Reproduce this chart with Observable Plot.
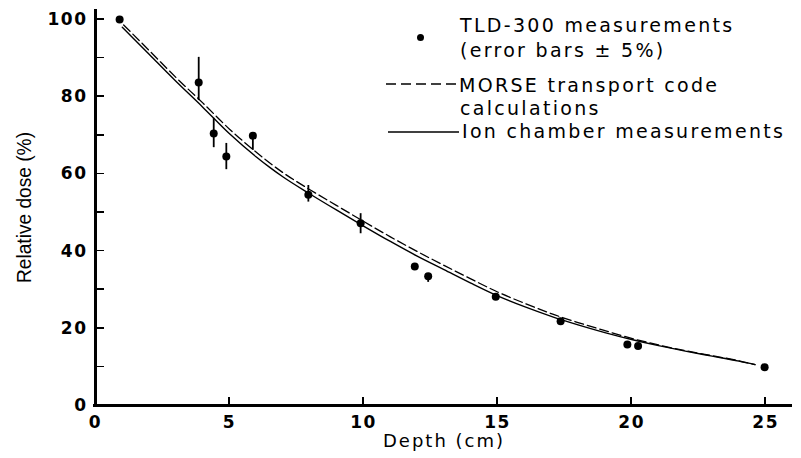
<!DOCTYPE html>
<html>
<head>
<meta charset="utf-8">
<script src="https://cdn.jsdelivr.net/npm/d3@7"></script>
<script src="https://cdn.jsdelivr.net/npm/@observablehq/plot@0.6"></script>
<style>
  html, body { margin: 0; padding: 0; background: #fff; }
  #wrap { position: relative; width: 801px; height: 458px; }
  #wrap g[aria-label="x-axis tick label"] text,
  #wrap g[aria-label="y-axis tick label"] text {
    font-family: "DejaVu Sans", sans-serif; font-size: 17px; font-weight: bold; letter-spacing: 1.5px;
  }
  #wrap g[aria-label="x-axis label"] text {
    font-family: "DejaVu Sans", sans-serif; font-size: 18px; letter-spacing: 2px;
  }
  #wrap g[aria-label="y-axis label"] text {
    font-family: "Liberation Sans", sans-serif; font-size: 21px;
  }
  .lg { position: absolute; font-family: "DejaVu Sans", sans-serif; font-size: 19px;
        line-height: 19px; letter-spacing: 2.3px; color: #000; white-space: nowrap; }
  .lgsvg { position: absolute; overflow: visible; }
  .axbar { position: absolute; background: #000; }
</style>
</head>
<body>
<div id="wrap"></div>
<script>
// TLD-300 measurements (depth cm, relative dose %), with error bar ends as drawn
const tldDepth = [0.9, 3.85, 4.41, 4.88, 5.87, 7.94, 9.89, 11.91, 12.41, 14.93, 17.35, 19.84, 20.24, 24.96];
const tldDose  = [100, 83.7, 70.5, 64.5, 69.9, 54.6, 47.2, 36.0, 33.5, 28.2, 21.8, 15.8, 15.4, 9.9];
const tldErrLo = [100, 79.0, 66.8, 61.1, 66.1, 52.7, 44.5, 36.0, 31.9, 28.2, 21.8, 15.8, 15.4, 9.9];
const tldErrHi = [100, 90.2, 74.4, 67.9, 69.9, 57.0, 49.7, 36.0, 33.5, 28.2, 21.8, 15.8, 15.4, 9.9];

// MORSE transport code calculations (dashed)
const morseDepth = [1.05, 2, 3, 4, 5, 6, 7, 8, 9, 10, 11, 12, 13, 14, 15, 16, 17, 18, 19, 20, 21, 22, 23, 24, 24.6];
const morseDose  = [98.6, 92, 85, 78.4, 71.6, 65.6, 60.3, 55.9, 51.8, 47.7, 43.7, 39.9, 36.3, 32.8, 29.4, 26.5, 23.8, 21.5, 19.4, 17.4, 15.7, 14.2, 12.9, 11.6, 10.6];

// Ion chamber measurements (solid)
const ionDepth = [1, 2, 3, 4, 5, 6, 6.5, 7, 8, 9, 10, 11, 12, 13, 14, 15, 16, 17, 18, 19, 20, 21, 22, 23, 24, 24.6];
const ionDose  = [98, 91, 84, 77.3, 70.4, 64.4, 61.7, 59.2, 54.8, 50.6, 46.5, 42.5, 38.7, 35.2, 31.7, 28.4, 25.6, 23.1, 20.9, 18.9, 17.1, 15.5, 14.1, 12.8, 11.5, 10.6];

const xTickLabels = [0, 5, 10, 15, 20, 25];
const xTickMarks = [5, 10, 15, 20, 25];
const yTickLabels = [0, 20, 40, 60, 80, 100];
const yTickMarks = [10, 20, 30, 40, 50, 60, 70, 80, 90, 100];

const xLabel = "Depth (cm)";
const yLabel = "Relative dose (%)";
const legendTLD = ["TLD-300 measurements", "(error bars \u00b1 5%)"];
const legendMorse = ["MORSE transport code", "calculations"];
const legendIon = "Ion chamber measurements";

const tld = tldDepth.map((d, i) => ({depth: d, dose: tldDose[i], lo: tldErrLo[i], hi: tldErrHi[i]}));
const morse = morseDepth.map((d, i) => ({depth: d, dose: morseDose[i]}));
const ion = ionDepth.map((d, i) => ({depth: d, dose: ionDose[i]}));

const W = 801, H = 458, mL = 95, mR = 9, mT = 9, mB = 53;
const xDomain = [0, 26], yDomain = [0, 102.6];

const chart = Plot.plot({
  width: W, height: H,
  marginLeft: mL, marginRight: mR, marginTop: mT, marginBottom: mB,
  x: {domain: xDomain},
  y: {domain: yDomain},
  marks: [
    Plot.ruleX([0], {x: d => d, stroke: "#000", strokeWidth: 3}),
    Plot.ruleY([0], {y: d => d, stroke: "#000", strokeWidth: 3}),
    Plot.line(morse, {x: "depth", y: "dose", stroke: "#000", strokeWidth: 1.3, strokeDasharray: "9,4", curve: "monotone-x"}),
    Plot.line(ion, {x: "depth", y: "dose", stroke: "#000", strokeWidth: 1.4, curve: "monotone-x"}),
    Plot.ruleX(tld.filter(d => d.hi > d.lo), {x: "depth", y1: "lo", y2: "hi", stroke: "#000", strokeWidth: 1.8}),
    Plot.dot(tld, {x: "depth", y: "dose", r: 4, fill: "#000", stroke: "none"}),
    Plot.axisX({ticks: xTickLabels, tickSize: 0, tickPadding: 10, tickFormat: d => String(d),
      label: xLabel, labelAnchor: "center", labelArrow: "none", labelOffset: 41}),
    Plot.axisY({ticks: yTickLabels, tickSize: 0, tickPadding: 8, tickFormat: d => String(d),
      label: yLabel, labelAnchor: "center", labelArrow: "none", labelOffset: 79})
  ]
});

const wrap = document.getElementById("wrap");
wrap.appendChild(chart);

// fit the y title to the reference's length
const yt = chart.querySelector('g[aria-label="y-axis label"] text');
if (yt) { yt.setAttribute("textLength", "151"); yt.setAttribute("lengthAdjust", "spacingAndGlyphs"); }

// axis lines and inward ticks as solid bars, placed with the chart's own scales
const sx = chart.scale("x").apply, sy = chart.scale("y").apply;
function bar(left, top, w, h) {
  const el = document.createElement("div");
  el.className = "axbar";
  el.style.left = left + "px"; el.style.top = top + "px";
  el.style.width = w + "px"; el.style.height = h + "px";
  wrap.appendChild(el);
}
const x0 = sx(xDomain[0]), x1 = sx(xDomain[1]), y0 = sy(yDomain[0]), y1 = sy(yDomain[1]);
bar(x0 - 2, y0 - 1.5, x1 - x0 + 2, 3);          // x axis
bar(x0 - 1.5, y1, 3, y0 - y1 + 1.5);            // y axis
xTickMarks.forEach(v => bar(sx(v) - 0.75, y0 - 8, 1.5, 8));
yTickMarks.forEach(v => bar(x0, sy(v) - 0.75, 9, 1.5));

const NS = "http://www.w3.org/2000/svg";
function addText(txt, left, top) {
  const el = document.createElement("div");
  el.className = "lg"; el.textContent = txt;
  el.style.left = left + "px"; el.style.top = top + "px";
  wrap.appendChild(el);
}
function addSwatch(left, top, width, dash) {
  const s = document.createElementNS(NS, "svg");
  s.setAttribute("class", "lgsvg");
  s.setAttribute("width", width); s.setAttribute("height", 4);
  s.style.left = left + "px"; s.style.top = (top - 2) + "px";
  const p = document.createElementNS(NS, "path");
  p.setAttribute("d", "M0,2H" + width);
  p.setAttribute("stroke", "#000"); p.setAttribute("stroke-width", 1.5); p.setAttribute("fill", "none");
  if (dash) p.setAttribute("stroke-dasharray", dash);
  s.appendChild(p);
  wrap.appendChild(s);
}
function addDot(cx, cy, r) {
  const s = document.createElementNS(NS, "svg");
  s.setAttribute("class", "lgsvg");
  s.setAttribute("width", 2 * r + 2); s.setAttribute("height", 2 * r + 2);
  s.style.left = (cx - r - 1) + "px"; s.style.top = (cy - r - 1) + "px";
  const c = document.createElementNS(NS, "circle");
  c.setAttribute("cx", r + 1); c.setAttribute("cy", r + 1); c.setAttribute("r", r);
  c.setAttribute("fill", "#000");
  s.appendChild(c);
  wrap.appendChild(s);
}
// legend
addDot(420, 37, 3.5);
addText(legendTLD[0], 460, 16);
addText(legendTLD[1], 460, 41);
addSwatch(386, 84, 71, "10,5");
addText(legendMorse[0], 459, 76);
addText(legendMorse[1], 460, 99);
addSwatch(388, 132, 71, null);
addText(legendIon, 462, 122);
</script>
</body>
</html>
